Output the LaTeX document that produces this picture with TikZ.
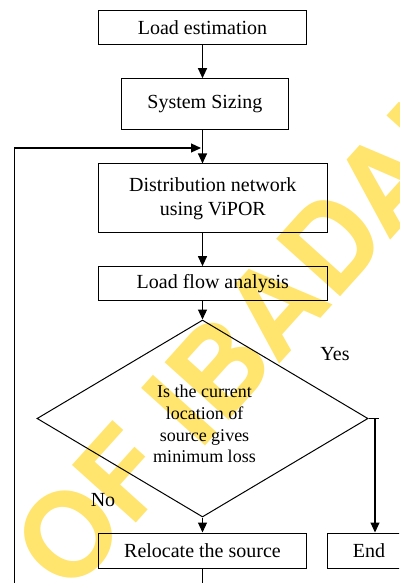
\documentclass[tikz,border=0pt]{standalone}
\usepackage{fontspec}
\setmainfont{Liberation Serif}
\newfontfamily\wmfont{TeX Gyre Heros}
\usetikzlibrary{arrows.meta,shapes.geometric}
\definecolor{wmyellow}{RGB}{255,228,110}
\begin{document}
\begin{tikzpicture}[x=1pt,y=-1pt,
  box/.style={draw, line width=1pt, rectangle, inner sep=0pt, align=center, font=\fontsize{20}{24}\selectfont},
  arr/.style={-{Triangle[length=10pt,width=9pt]}, line width=1.1pt},
  ln/.style={line width=1.1pt},
  lbl/.style={font=\fontsize{20}{24}\selectfont, inner sep=0pt},
  wm/.style={rotate=48, anchor=base west, inner sep=0pt, text=wmyellow, font=\wmfont\bfseries\fontsize{118}{118}\selectfont}]
\useasboundingbox (0,0) rectangle (399,583);
\clip (0,0) rectangle (399,583);
% watermark
\node[wm] (wmark) at (69,598) {OF IBADAN};
% boxes
\node[box, minimum width=208.4pt, minimum height=34.3pt] (le) at (202.5,27.2) {Load estimation};
\node[box, minimum width=167.7pt, minimum height=50.6pt] (ss) at (204.9,104) {\raisebox{2pt}{System Sizing}};
\node[box, minimum width=229pt, minimum height=68.7pt] (dn) at (212.8,198.3) {Distribution network\\using ViPOR};
\node[box, minimum width=229pt, minimum height=34.3pt] (lf) at (212.8,283.8) {Load flow analysis};
\node[draw, line width=1pt, diamond, inner sep=0pt, minimum width=331pt, minimum height=197pt, shape aspect=1.68] (dq) at (202.5,418.5) {};
\node[align=center, inner sep=0pt, font=\fontsize{18}{21.7}\selectfont] (dqt) at (204.5,424) {Is the current\\location of\\source gives\\minimum loss};
\node[box, minimum width=208.4pt, minimum height=35pt] (rl) at (202.5,550.5) {Relocate the source};
\node[box, minimum width=84pt, minimum height=35pt] (en) at (369,550.5) {End};
% labels
\node[lbl] (yes) at (335,354) {Yes};
\node[lbl] (no) at (103,500) {No};
% coordinates
\coordinate (fb) at (14.3,148);
\coordinate (bl) at (14.3,590);
\coordinate (yr) at (375,418.5);
\coordinate (rb) at (202.5,590);
% connectors
\draw[arr] (le.south) -- (le.south |- ss.north);
\draw[arr] (le.south |- ss.south) -- (le.south |- dn.north);
\draw[arr, shorten >=1.5pt] (bl) -- (fb) -- (le.south |- fb);
\draw[arr] (le.south |- dn.south) -- (le.south |- lf.north);
\draw[arr] (le.south |- lf.south) -- (dq.north);
\draw[arr] (dq.south) -- (rl.north);
\draw[ln] (dq.east) -- ++(10,0);
\draw[arr] (yr) -- (yr |- en.north);
\draw[ln] (rl.south) -- (rb);
\end{tikzpicture}
\end{document}
